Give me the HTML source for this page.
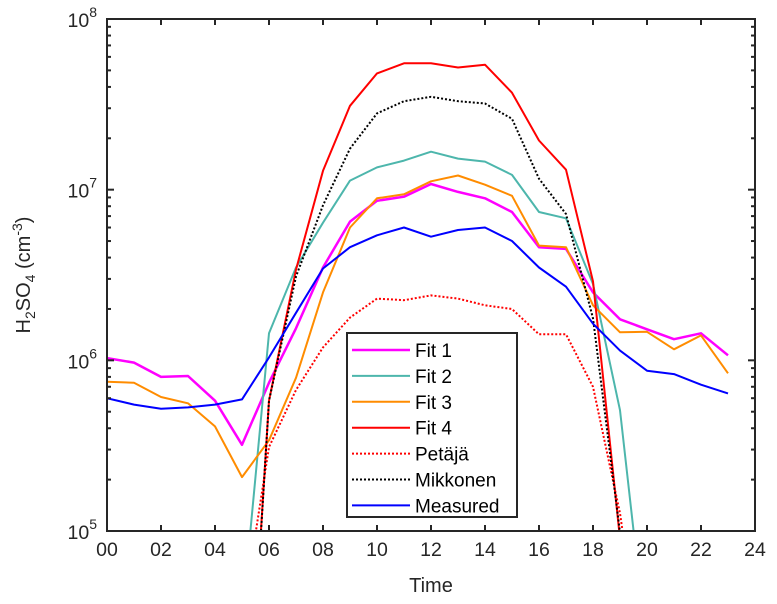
<!DOCTYPE html>
<html><head><meta charset="utf-8"><style>
html,body{margin:0;padding:0;background:#fff;overflow:hidden;width:777px;height:604px;}
svg{display:block;font-family:"Liberation Sans",Arial,sans-serif;}
</style></head><body>
<svg id="chart" width="777" height="604" viewBox="0 0 777 604" xmlns="http://www.w3.org/2000/svg">
<defs><clipPath id="plotclip"><rect x="107" y="19" width="648" height="512"/></clipPath></defs>
<g id="series" clip-path="url(#plotclip)"></g>
<g id="axes"></g>
<g id="legend"></g>
<text x="431" y="592" font-size="20" fill="#262626" text-anchor="middle">Time</text>
<text transform="translate(30,275) rotate(-90)" font-size="20" fill="#262626" text-anchor="middle">H<tspan font-size="14" dy="5">2</tspan><tspan dy="-5">SO</tspan><tspan font-size="14" dy="5">4</tspan><tspan dy="-5"> (cm</tspan><tspan font-size="14" dy="-8">-3</tspan><tspan dy="8">)</tspan></text>
</svg>
<script>
const hours = [0,1,2,3,4,5,6,7,8,9,10,11,12,13,14,15,16,17,18,19,20,21,22,23];
const fit1 = [1.03e6,9.7e5,8.0e5,8.1e5,5.8e5,3.2e5,7.4e5,1.54e6,3.5e6,6.5e6,8.6e6,9.1e6,1.08e7,9.7e6,8.9e6,7.4e6,4.6e6,4.5e6,2.5e6,1.74e6,1.52e6,1.33e6,1.44e6,1.07e6];
const fit2 = [null,null,null,null,null,3e4,1.44e6,3.5e6,6.4e6,1.13e7,1.35e7,1.48e7,1.67e7,1.52e7,1.46e7,1.22e7,7.4e6,6.8e6,2.8e6,5.1e5,2e4,null,null,null];
const fit3 = [7.5e5,7.4e5,6.1e5,5.6e5,4.1e5,2.07e5,3.4e5,7.9e5,2.5e6,6.0e6,8.9e6,9.4e6,1.12e7,1.21e7,1.07e7,9.2e6,4.7e6,4.6e6,2.1e6,1.46e6,1.47e6,1.16e6,1.40e6,8.4e5];
const fit4 = [null,null,null,null,null,1.6e3,5.8e5,3.4e6,1.29e7,3.1e7,4.8e7,5.5e7,5.5e7,5.2e7,5.4e7,3.7e7,1.94e7,1.31e7,2.9e6,9e4,3e3,null,null,null];
const petaja = [null,null,null,null,null,3e4,3.1e5,6.7e5,1.19e6,1.78e6,2.3e6,2.25e6,2.4e6,2.3e6,2.1e6,2.0e6,1.42e6,1.42e6,7.0e5,1.27e5,1e4,null,null,null];
const mikkonen = [null,null,null,null,null,1.5e3,5.8e5,3.1e6,8.1e6,1.74e7,2.8e7,3.3e7,3.5e7,3.3e7,3.2e7,2.6e7,1.16e7,7.2e6,1.76e6,9.8e4,3e3,null,null,null];
const measured = [6.0e5,5.5e5,5.2e5,5.3e5,5.5e5,5.9e5,1.04e6,1.9e6,3.45e6,4.6e6,5.4e6,6.0e6,5.3e6,5.8e6,6.0e6,5.0e6,3.5e6,2.7e6,1.64e6,1.14e6,8.7e5,8.3e5,7.2e5,6.4e5];
const xTickLabels = ["00","02","04","06","08","10","12","14","16","18","20","22","24"];
const yDecades = [5,6,7,8];
const seriesNames = ["Fit 1","Fit 2","Fit 3","Fit 4","Petäjä","Mikkonen","Measured"];

const NS = "http://www.w3.org/2000/svg";
const X0=107, X1=755, Y0=531, Y1=19;
const xs = h => X0 + (h/24)*(X1-X0);
const ys = v => Y0 - (Math.log10(v)-5)/3*(Y0-Y1);
function mk(tag, attrs, parent){const e=document.createElementNS(NS,tag);for(const k in attrs)e.setAttribute(k,attrs[k]);parent.appendChild(e);return e;}

const styles = [
 {d:fit1, c:"#ff00ff", w:2.5, dash:null, n:"fit-1-line"},
 {d:fit2, c:"#4db6ac", w:2, dash:null, n:"fit-2-line"},
 {d:fit3, c:"#ff8c00", w:2, dash:null, n:"fit-3-line"},
 {d:fit4, c:"#ff0000", w:2, dash:null, n:"fit-4-line"},
 {d:petaja, c:"#ff0000", w:2, dash:"2,2", n:"petaja-line"},
 {d:mikkonen, c:"#000000", w:2, dash:"2,2", n:"mikkonen-line"},
 {d:measured, c:"#0000ff", w:2, dash:null, n:"measured-line"}
];
const sg = document.getElementById("series");
styles.forEach(s=>{
  let pts=[];
  s.d.forEach((v,j)=>{ if(v!=null) pts.push(xs(hours[j]).toFixed(1)+","+ys(v).toFixed(1)); });
  const p=mk("polyline",{points:pts.join(" "),fill:"none",stroke:s.c,"stroke-width":s.w,"stroke-linejoin":"round"},sg);
  if(s.dash) p.setAttribute("stroke-dasharray",s.dash);
  
  
});

const ax = document.getElementById("axes");
const frame = mk("rect",{x:X0,y:Y1,width:X1-X0,height:Y0-Y1,fill:"none",stroke:"#262626","stroke-width":2},ax);


xTickLabels.forEach((lab,i)=>{
  const x=xs(i*2);
  mk("line",{x1:x,y1:Y0,x2:x,y2:Y0-6,stroke:"#262626","stroke-width":2},ax);
  mk("line",{x1:x,y1:Y1,x2:x,y2:Y1+6,stroke:"#262626","stroke-width":2},ax);
  const t=mk("text",{x:x,y:Y0+25,"font-size":19.5,fill:"#262626","text-anchor":"middle"},ax);
  t.textContent=lab;
  
  
});
yDecades.forEach(d=>{
  const y=ys(Math.pow(10,d));
  mk("line",{x1:X0,y1:y,x2:X0+7,y2:y,stroke:"#262626","stroke-width":2},ax);
  mk("line",{x1:X1,y1:y,x2:X1-7,y2:y,stroke:"#262626","stroke-width":2},ax);
  const t=mk("text",{x:X0-10,y:y+8,"font-size":19.5,fill:"#262626","text-anchor":"end"},ax);
  t.textContent="10";
  const sp=mk("tspan",{"font-size":14,dy:-10},t);
  sp.textContent=String(d);
  
  
  if(d<8){
    for(let m=2;m<=9;m++){
      const yy=ys(m*Math.pow(10,d));
      mk("line",{x1:X0,y1:yy,x2:X0+4,y2:yy,stroke:"#262626","stroke-width":2},ax);
      mk("line",{x1:X1,y1:yy,x2:X1-4,y2:yy,stroke:"#262626","stroke-width":2},ax);
    }
  }
});

const lg = document.getElementById("legend");
const box = mk("rect",{x:347,y:333,width:170,height:184,fill:"#fff",stroke:"#262626","stroke-width":2},lg);


seriesNames.forEach((nm,i)=>{
  const y=350+i*25.9;
  const s=styles[i];
  const g=mk("g",{},lg);
  
  
  const l=mk("line",{x1:352,y1:y,x2:410,y2:y,stroke:s.c,"stroke-width":s.w},g);
  if(s.dash) l.setAttribute("stroke-dasharray",s.dash);
  const t=mk("text",{x:415,y:y+7,"font-size":19,fill:"#000"},g);
  t.textContent=nm;
});
</script>
</body></html>
